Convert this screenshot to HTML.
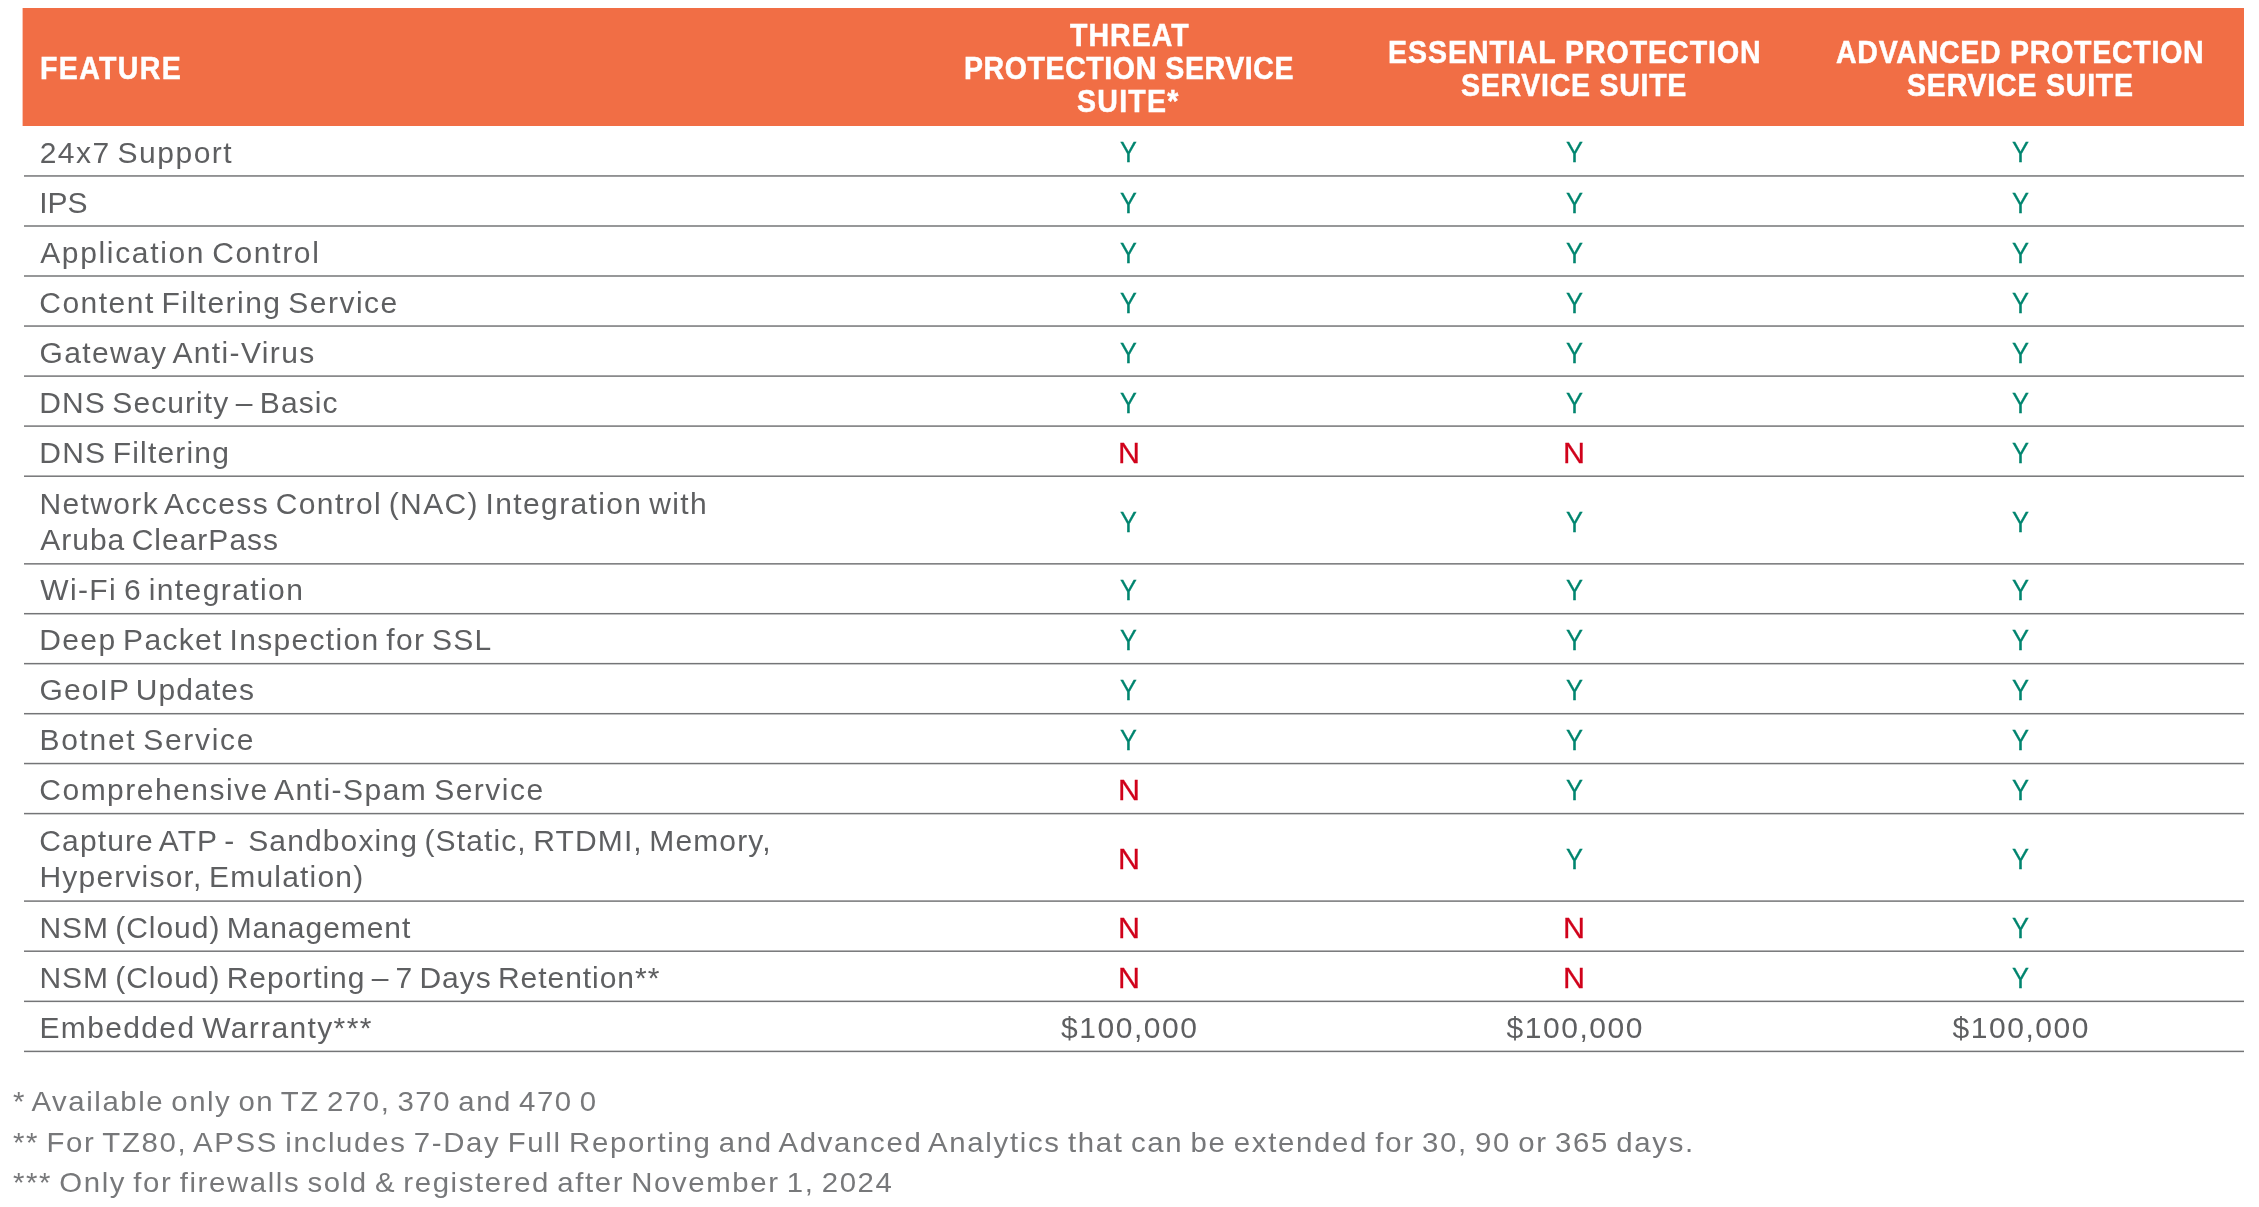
<!DOCTYPE html>
<html><head><meta charset="utf-8"><title>Service Suite Comparison</title>
<style>
html,body{margin:0;padding:0;background:#fff;}
body{width:2259px;height:1207px;position:relative;overflow:hidden;font-family:"Liberation Sans",sans-serif;}
.hdr{position:absolute;left:23.0px;top:8.0px;width:2221.0px;height:118.0px;background:#f16e45;}
.ln{position:absolute;left:24px;width:2220px;height:1px;}
.hl{position:absolute;left:22px;top:8px;width:1px;height:118px;background:#f16e45;opacity:.4;}
.wrap{position:absolute;left:0;top:0;width:2259px;height:1207px;will-change:transform;}
.t{position:absolute;white-space:pre;line-height:1;transform-origin:0 0;}
.b{font-size:30px;color:#5e5f61;word-spacing:-3px;}
.h{font-size:31px;color:#fff;font-weight:700;-webkit-text-stroke:0.5px #fff;}
.f{font-size:28.5px;color:#77787a;word-spacing:-2.5px;}
.y,.n{font-size:30.5px;-webkit-text-stroke:0.3px;}.y{color:#00856f;}.n{color:#d0021b;}
</style></head><body>
<div class="wrap">
<div class="hdr"></div>
<div class="hl"></div>
<div class="ln" style="top:175px;background:#909192"></div>
<div class="ln" style="top:176px;background:#9e9ea0"></div>
<div class="ln" style="top:225px;background:#979899"></div>
<div class="ln" style="top:226px;background:#979899"></div>
<div class="ln" style="top:275px;background:#979899"></div>
<div class="ln" style="top:276px;background:#979899"></div>
<div class="ln" style="top:325px;background:#9e9ea0"></div>
<div class="ln" style="top:326px;background:#909192"></div>
<div class="ln" style="top:375px;background:#a5a5a7"></div>
<div class="ln" style="top:376px;background:#898a8b"></div>
<div class="ln" style="top:425px;background:#a5a5a7"></div>
<div class="ln" style="top:426px;background:#898a8b"></div>
<div class="ln" style="top:475px;background:#b3b3b4"></div>
<div class="ln" style="top:476px;background:#7b7c7e"></div>
<div class="ln" style="top:563px;background:#828385"></div>
<div class="ln" style="top:564px;background:#acacad"></div>
<div class="ln" style="top:612px;background:#f8f8f8"></div>
<div class="ln" style="top:613px;background:#747577"></div>
<div class="ln" style="top:614px;background:#c0c1c2"></div>
<div class="ln" style="top:662px;background:#f1f1f1"></div>
<div class="ln" style="top:663px;background:#747577"></div>
<div class="ln" style="top:664px;background:#c7c8c9"></div>
<div class="ln" style="top:712px;background:#f8f8f8"></div>
<div class="ln" style="top:713px;background:#747577"></div>
<div class="ln" style="top:714px;background:#c0c1c2"></div>
<div class="ln" style="top:762px;background:#e3e3e4"></div>
<div class="ln" style="top:763px;background:#747577"></div>
<div class="ln" style="top:764px;background:#d5d6d6"></div>
<div class="ln" style="top:812px;background:#eaeaeb"></div>
<div class="ln" style="top:813px;background:#747577"></div>
<div class="ln" style="top:814px;background:#cecfcf"></div>
<div class="ln" style="top:900px;background:#a5a5a7"></div>
<div class="ln" style="top:901px;background:#898a8b"></div>
<div class="ln" style="top:950px;background:#b3b3b4"></div>
<div class="ln" style="top:951px;background:#7b7c7e"></div>
<div class="ln" style="top:1000px;background:#c7c8c9"></div>
<div class="ln" style="top:1001px;background:#747577"></div>
<div class="ln" style="top:1002px;background:#f1f1f1"></div>
<div class="ln" style="top:1050px;background:#cecfcf"></div>
<div class="ln" style="top:1051px;background:#747577"></div>
<div class="ln" style="top:1052px;background:#eaeaeb"></div>
<span class="t h" style="left:39.74px;top:53px;letter-spacing:1.472px;transform:scaleX(0.9200);">FEATURE</span>
<span class="t h" style="left:1069.56px;top:20px;letter-spacing:1.097px;transform:scaleX(0.9200);">THREAT</span>
<span class="t h" style="left:963.74px;top:53px;letter-spacing:0.636px;transform:scaleX(0.9200);">PROTECTION SERVICE</span>
<span class="t h" style="left:1077.33px;top:86px;letter-spacing:1.380px;transform:scaleX(0.9200);">SUITE*</span>
<span class="t h" style="left:1387.76px;top:37px;letter-spacing:1.043px;transform:scaleX(0.9200);">ESSENTIAL PROTECTION</span>
<span class="t h" style="left:1461.33px;top:70px;letter-spacing:0.794px;transform:scaleX(0.9200);">SERVICE SUITE</span>
<span class="t h" style="left:1836.21px;top:37px;letter-spacing:0.804px;transform:scaleX(0.9200);">ADVANCED PROTECTION</span>
<span class="t h" style="left:1907.33px;top:70px;letter-spacing:0.860px;transform:scaleX(0.9200);">SERVICE SUITE</span>
<span class="t b" style="left:39.63px;top:138px;letter-spacing:1.508px;">24x7 Support</span>
<span class="t b y" style="left:1120.25px;top:137px;transform:scale(0.8279,0.96);">Y</span>
<span class="t b y" style="left:1565.69px;top:137px;transform:scale(0.8364,0.96);">Y</span>
<span class="t b y" style="left:2011.69px;top:137px;transform:scale(0.8364,0.96);">Y</span>
<span class="t b" style="left:39.24px;top:188px;letter-spacing:-0.064px;">IPS</span>
<span class="t b y" style="left:1120.25px;top:188px;transform:scale(0.8279,0.96);">Y</span>
<span class="t b y" style="left:1565.69px;top:188px;transform:scale(0.8364,0.96);">Y</span>
<span class="t b y" style="left:2011.69px;top:188px;transform:scale(0.8364,0.96);">Y</span>
<span class="t b" style="left:40.19px;top:238px;letter-spacing:1.658px;">Application Control</span>
<span class="t b y" style="left:1120.25px;top:238px;transform:scale(0.8279,0.96);">Y</span>
<span class="t b y" style="left:1565.69px;top:238px;transform:scale(0.8364,0.96);">Y</span>
<span class="t b y" style="left:2011.69px;top:238px;transform:scale(0.8364,0.96);">Y</span>
<span class="t b" style="left:39.32px;top:288px;letter-spacing:1.477px;">Content Filtering Service</span>
<span class="t b y" style="left:1120.25px;top:288px;transform:scale(0.8279,0.96);">Y</span>
<span class="t b y" style="left:1565.69px;top:288px;transform:scale(0.8364,0.96);">Y</span>
<span class="t b y" style="left:2011.69px;top:288px;transform:scale(0.8364,0.96);">Y</span>
<span class="t b" style="left:39.50px;top:338px;letter-spacing:1.360px;">Gateway Anti-Virus</span>
<span class="t b y" style="left:1120.25px;top:338px;transform:scale(0.8279,0.96);">Y</span>
<span class="t b y" style="left:1565.69px;top:338px;transform:scale(0.8364,0.96);">Y</span>
<span class="t b y" style="left:2011.69px;top:338px;transform:scale(0.8364,0.96);">Y</span>
<span class="t b" style="left:39.36px;top:388px;letter-spacing:1.071px;">DNS Security – Basic</span>
<span class="t b y" style="left:1120.25px;top:388px;transform:scale(0.8279,0.96);">Y</span>
<span class="t b y" style="left:1565.69px;top:388px;transform:scale(0.8364,0.96);">Y</span>
<span class="t b y" style="left:2011.69px;top:388px;transform:scale(0.8364,0.96);">Y</span>
<span class="t b" style="left:39.36px;top:438px;letter-spacing:1.178px;">DNS Filtering</span>
<span class="t b n" style="left:1117.54px;top:438px;transform:scale(0.9981,0.96);">N</span>
<span class="t b n" style="left:1563.16px;top:438px;transform:scale(1.0004,0.96);">N</span>
<span class="t b y" style="left:2011.69px;top:438px;transform:scale(0.8364,0.96);">Y</span>
<span class="t b" style="left:39.47px;top:489px;letter-spacing:1.369px;">Network Access Control (NAC) Integration with</span>
<span class="t b" style="left:40.19px;top:525px;letter-spacing:1.009px;">Aruba ClearPass</span>
<span class="t b y" style="left:1120.25px;top:507px;transform:scale(0.8279,0.96);">Y</span>
<span class="t b y" style="left:1565.69px;top:507px;transform:scale(0.8364,0.96);">Y</span>
<span class="t b y" style="left:2011.69px;top:507px;transform:scale(0.8364,0.96);">Y</span>
<span class="t b" style="left:40.19px;top:575px;letter-spacing:1.402px;">Wi-Fi 6 integration</span>
<span class="t b y" style="left:1120.25px;top:575px;transform:scale(0.8279,0.96);">Y</span>
<span class="t b y" style="left:1565.69px;top:575px;transform:scale(0.8364,0.96);">Y</span>
<span class="t b y" style="left:2011.69px;top:575px;transform:scale(0.8364,0.96);">Y</span>
<span class="t b" style="left:39.36px;top:625px;letter-spacing:1.333px;">Deep Packet Inspection for SSL</span>
<span class="t b y" style="left:1120.25px;top:625px;transform:scale(0.8279,0.96);">Y</span>
<span class="t b y" style="left:1565.69px;top:625px;transform:scale(0.8364,0.96);">Y</span>
<span class="t b y" style="left:2011.69px;top:625px;transform:scale(0.8364,0.96);">Y</span>
<span class="t b" style="left:39.50px;top:675px;letter-spacing:1.084px;">GeoIP Updates</span>
<span class="t b y" style="left:1120.25px;top:675px;transform:scale(0.8279,0.96);">Y</span>
<span class="t b y" style="left:1565.69px;top:675px;transform:scale(0.8364,0.96);">Y</span>
<span class="t b y" style="left:2011.69px;top:675px;transform:scale(0.8364,0.96);">Y</span>
<span class="t b" style="left:39.52px;top:725px;letter-spacing:1.673px;">Botnet Service</span>
<span class="t b y" style="left:1120.25px;top:725px;transform:scale(0.8279,0.96);">Y</span>
<span class="t b y" style="left:1565.69px;top:725px;transform:scale(0.8364,0.96);">Y</span>
<span class="t b y" style="left:2011.69px;top:725px;transform:scale(0.8364,0.96);">Y</span>
<span class="t b" style="left:39.32px;top:775px;letter-spacing:1.486px;">Comprehensive Anti-Spam Service</span>
<span class="t b n" style="left:1117.54px;top:775px;transform:scale(0.9981,0.96);">N</span>
<span class="t b y" style="left:1565.69px;top:775px;transform:scale(0.8364,0.96);">Y</span>
<span class="t b y" style="left:2011.69px;top:775px;transform:scale(0.8364,0.96);">Y</span>
<span class="t b" style="left:39.32px;top:826px;letter-spacing:1.128px;">Capture ATP -  Sandboxing (Static, RTDMI, Memory,</span>
<span class="t b" style="left:39.47px;top:862px;letter-spacing:1.187px;">Hypervisor, Emulation)</span>
<span class="t b n" style="left:1117.54px;top:844px;transform:scale(0.9981,0.96);">N</span>
<span class="t b y" style="left:1565.69px;top:844px;transform:scale(0.8364,0.96);">Y</span>
<span class="t b y" style="left:2011.69px;top:844px;transform:scale(0.8364,0.96);">Y</span>
<span class="t b" style="left:39.47px;top:913px;letter-spacing:0.955px;">NSM (Cloud) Management</span>
<span class="t b n" style="left:1117.54px;top:913px;transform:scale(0.9981,0.96);">N</span>
<span class="t b n" style="left:1563.16px;top:913px;transform:scale(1.0004,0.96);">N</span>
<span class="t b y" style="left:2011.69px;top:913px;transform:scale(0.8364,0.96);">Y</span>
<span class="t b" style="left:39.47px;top:963px;letter-spacing:0.957px;">NSM (Cloud) Reporting – 7 Days Retention**</span>
<span class="t b n" style="left:1117.54px;top:963px;transform:scale(0.9981,0.96);">N</span>
<span class="t b n" style="left:1563.16px;top:963px;transform:scale(1.0004,0.96);">N</span>
<span class="t b y" style="left:2011.69px;top:963px;transform:scale(0.8364,0.96);">Y</span>
<span class="t b" style="left:39.47px;top:1013px;letter-spacing:1.360px;">Embedded Warranty***</span>
<span class="t b" style="left:1061.11px;top:1013px;letter-spacing:1.520px;">$100,000</span>
<span class="t b" style="left:1506.55px;top:1013px;letter-spacing:1.524px;">$100,000</span>
<span class="t b" style="left:1952.55px;top:1013px;letter-spacing:1.524px;">$100,000</span>
<span class="t f" style="left:12.76px;top:1087px;letter-spacing:1.513px;transform:scaleX(1.0300);">* Available only on TZ 270, 370 and 470 0</span>
<span class="t f" style="left:12.76px;top:1128px;letter-spacing:1.634px;transform:scaleX(1.0300);">** For TZ80, APSS includes 7-Day Full Reporting and Advanced Analytics that can be extended for 30, 90 or 365 days.</span>
<span class="t f" style="left:12.76px;top:1168px;letter-spacing:1.570px;transform:scaleX(1.0300);">*** Only for firewalls sold &amp; registered after November 1, 2024</span>
</div>
</body></html>
